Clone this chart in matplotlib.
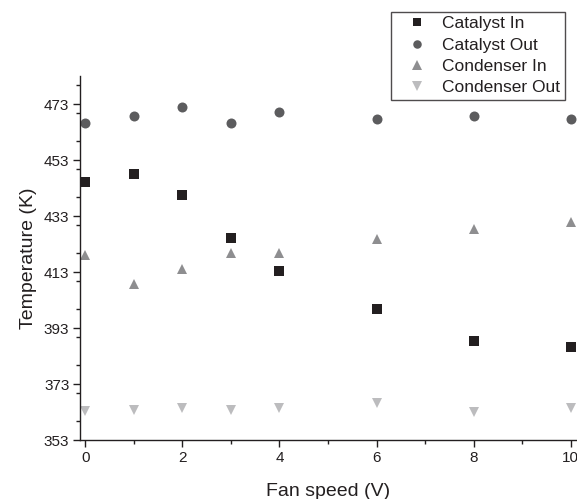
import matplotlib
matplotlib.use("Agg")
import matplotlib.pyplot as plt
from matplotlib.ticker import MultipleLocator

plt.rcParams['font.family'] = ['Liberation Sans', 'DejaVu Sans']

fan_speed = [0, 1, 2, 3, 4, 6, 8, 10]
catalyst_in = [445.3, 448.1, 440.7, 425.1, 413.4, 399.8, 388.5, 386.3]
catalyst_out = [466.5, 468.7, 472.0, 466.3, 470.4, 467.6, 468.7, 467.6]
condenser_in = [419.1, 408.7, 414.3, 420.0, 419.8, 424.8, 428.6, 431.0]
condenser_out = [363.3, 363.7, 364.6, 363.6, 364.3, 366.4, 362.9, 364.6]
y_ticks = [353, 373, 393, 413, 433, 453, 473]
x_ticks = [0, 2, 4, 6, 8, 10]

fig = plt.figure(figsize=(5.77, 4.99), dpi=100)
ax = fig.add_axes([0.1395, 0.118, 0.858, 0.729])

h1, = ax.plot(fan_speed, catalyst_in, 's', color='#231f20', ms=6.5, mew=0, label='Catalyst In', clip_on=False)
h2, = ax.plot(fan_speed, catalyst_out, 'o', color='#5c5c5e', ms=7.2, mew=0, label='Catalyst Out', clip_on=False)
h3, = ax.plot(fan_speed, condenser_in, '^', color='#8e8e90', ms=7.8, mew=0, label='Condenser In', clip_on=False)
h4, = ax.plot(fan_speed, condenser_out, 'v', color='#bcbcbe', ms=7.8, mew=0, label='Condenser Out', clip_on=False)

ax.set_xlim(-0.1, 10.1)
ax.set_ylim(353, 483)
ax.set_yticks(y_ticks)
ax.set_xticks(x_ticks)
ax.xaxis.set_minor_locator(MultipleLocator(1))
ax.yaxis.set_minor_locator(MultipleLocator(10))
ax.spines['top'].set_visible(False)
ax.spines['right'].set_visible(False)
for s in ['left', 'bottom']:
    ax.spines[s].set_linewidth(1.0)
    ax.spines[s].set_color('#231f20')
ax.tick_params(which='major', direction='out', length=5, width=1, labelsize=11, pad=3,
               color='#231f20', labelcolor='#231f20')
ax.tick_params(which='minor', direction='out', length=3, width=1, color='#231f20')

ax.set_xlabel('Fan speed (V)', fontsize=14, color='#231f20', labelpad=13)
ax.set_ylabel('Temperature (K)', fontsize=14, color='#231f20', labelpad=5)

leg = ax.legend(handles=[h1, h2, h3, h4], loc='upper left',
                bbox_to_anchor=(391/577, 1 - 12/499), bbox_transform=fig.transFigure,
                fontsize=12.5, frameon=True, fancybox=False, edgecolor='#231f20',
                handletextpad=0.2, labelspacing=0.35, borderpad=0.25,
                handlelength=2.5, markerscale=0.85, borderaxespad=0)
leg.get_frame().set_linewidth(1.0)
for t in leg.get_texts():
    t.set_color('#231f20')

fig.savefig('out.png', dpi=100)
